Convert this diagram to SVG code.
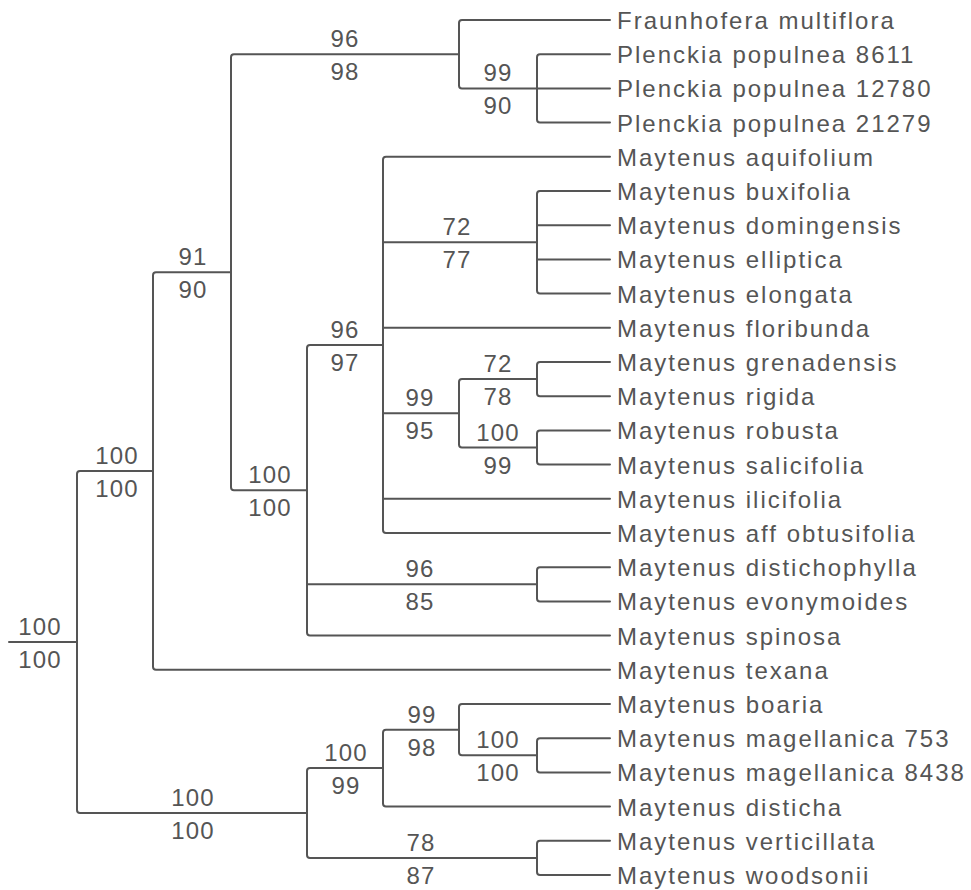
<svg xmlns="http://www.w3.org/2000/svg" width="971" height="890" viewBox="0 0 971 890">
<style>
.e{fill:none;stroke:#555;stroke-width:2;stroke-linecap:round;stroke-linejoin:round}
.t{font-family:"Liberation Sans",Arial,sans-serif;font-size:24px;fill:#555;letter-spacing:2px}
.s{font-family:"Liberation Sans",Arial,sans-serif;font-size:24px;fill:#555;letter-spacing:1.2px;text-anchor:middle}
</style>
<rect width="971" height="890" fill="#fff"/>
<g id="connectors" class="e">
<path d="M9 642H77"/>
<path d="M153 471H80Q77 471 77 474V810Q77 813 80 813H307"/>
<path d="M231 272.2H156Q153 272.2 153 275.2V666.8Q153 669.8 156 669.8H610"/>
<path d="M459 54.2H234Q231 54.2 231 57.2V487.25Q231 490.25 234 490.25H307"/>
<path d="M610 20H462Q459 20 459 23V85.4Q459 88.4 462 88.4H537"/>
<path d="M610 54.2H540Q537 54.2 537 57.2V119.6Q537 122.6 540 122.6H610M537 88.4H610"/>
<path d="M383 344.9H310Q307 344.9 307 347.9V632.6Q307 635.6 310 635.6H610M307 584.3H537"/>
<path d="M610 156.8H386Q383 156.8 383 159.8V530Q383 533 386 533H610M383 242.3H537M383 327.8H610M383 413.3H459M383 498.8H610"/>
<path d="M610 191H540Q537 191 537 194V290.6Q537 293.6 540 293.6H610M537 225.2H610M537 259.4H610"/>
<path d="M537 379.1H462Q459 379.1 459 382.1V444.5Q459 447.5 462 447.5H537"/>
<path d="M610 362H540Q537 362 537 365V393.2Q537 396.2 540 396.2H610"/>
<path d="M610 430.4H540Q537 430.4 537 433.4V461.6Q537 464.6 540 464.6H610"/>
<path d="M610 567.2H540Q537 567.2 537 570.2V598.4Q537 601.4 540 601.4H610"/>
<path d="M383 768.1H310Q307 768.1 307 771.1V854.9Q307 857.9 310 857.9H537"/>
<path d="M459 729.65H386Q383 729.65 383 732.65V803.6Q383 806.6 386 806.6H610"/>
<path d="M610 704H462Q459 704 459 707V752.3Q459 755.3 462 755.3H537"/>
<path d="M610 738.2H540Q537 738.2 537 741.2V769.4Q537 772.4 540 772.4H610"/>
<path d="M610 840.8H540Q537 840.8 537 843.8V872Q537 875 540 875H610"/>
</g>
<g id="leaves" class="t">
<g id="leaf-fraunhofera-multiflora"><text x="617" y="29">Fraunhofera multiflora</text></g>
<g id="leaf-plenckia-8611"><text x="617" y="63.2">Plenckia populnea 8611</text></g>
<g id="leaf-plenckia-12780"><text x="617" y="97.4">Plenckia populnea 12780</text></g>
<g id="leaf-plenckia-21279"><text x="617" y="131.6">Plenckia populnea 21279</text></g>
<g id="leaf-aquifolium"><text x="617" y="165.8">Maytenus aquifolium</text></g>
<g id="leaf-buxifolia"><text x="617" y="200">Maytenus buxifolia</text></g>
<g id="leaf-domingensis"><text x="617" y="234.2">Maytenus domingensis</text></g>
<g id="leaf-elliptica"><text x="617" y="268.4">Maytenus elliptica</text></g>
<g id="leaf-elongata"><text x="617" y="302.6">Maytenus elongata</text></g>
<g id="leaf-floribunda"><text x="617" y="336.8">Maytenus floribunda</text></g>
<g id="leaf-grenadensis"><text x="617" y="371">Maytenus grenadensis</text></g>
<g id="leaf-rigida"><text x="617" y="405.2">Maytenus rigida</text></g>
<g id="leaf-robusta"><text x="617" y="439.4">Maytenus robusta</text></g>
<g id="leaf-salicifolia"><text x="617" y="473.6">Maytenus salicifolia</text></g>
<g id="leaf-ilicifolia"><text x="617" y="507.8">Maytenus ilicifolia</text></g>
<g id="leaf-aff-obtusifolia"><text x="617" y="542">Maytenus aff obtusifolia</text></g>
<g id="leaf-distichophylla"><text x="617" y="576.2">Maytenus distichophylla</text></g>
<g id="leaf-evonymoides"><text x="617" y="610.4">Maytenus evonymoides</text></g>
<g id="leaf-spinosa"><text x="617" y="644.6">Maytenus spinosa</text></g>
<g id="leaf-texana"><text x="617" y="678.8">Maytenus texana</text></g>
<g id="leaf-boaria"><text x="617" y="713">Maytenus boaria</text></g>
<g id="leaf-magellanica-753"><text x="617" y="747.2">Maytenus magellanica 753</text></g>
<g id="leaf-magellanica-8438"><text x="617" y="781.4">Maytenus magellanica 8438</text></g>
<g id="leaf-disticha"><text x="617" y="815.6">Maytenus disticha</text></g>
<g id="leaf-verticillata"><text x="617" y="849.8">Maytenus verticillata</text></g>
<g id="leaf-woodsonii"><text x="617" y="884">Maytenus woodsonii</text></g>
</g>
<g id="support" class="s">
<g id="sup-root"><text x="40" y="635">100</text><text x="40" y="668">100</text></g>
<g id="sup-a"><text x="117" y="464">100</text><text x="117" y="497">100</text></g>
<g id="sup-l"><text x="193" y="806">100</text><text x="193" y="839">100</text></g>
<g id="sup-b"><text x="193" y="265.2">91</text><text x="193" y="298.2">90</text></g>
<g id="sup-c"><text x="345" y="47.2">96</text><text x="345" y="80.2">98</text></g>
<g id="sup-d"><text x="498" y="81.4">99</text><text x="498" y="114.4">90</text></g>
<g id="sup-e"><text x="270" y="483.25">100</text><text x="270" y="516.25">100</text></g>
<g id="sup-f"><text x="345" y="337.9">96</text><text x="345" y="370.9">97</text></g>
<g id="sup-g"><text x="457" y="235.3">72</text><text x="457" y="268.3">77</text></g>
<g id="sup-h"><text x="420" y="406.3">99</text><text x="420" y="439.3">95</text></g>
<g id="sup-i"><text x="498" y="372.1">72</text><text x="498" y="405.1">78</text></g>
<g id="sup-j"><text x="498" y="440.5">100</text><text x="498" y="473.5">99</text></g>
<g id="sup-k"><text x="420" y="577.3">96</text><text x="420" y="610.3">85</text></g>
<g id="sup-m"><text x="346" y="761.1">100</text><text x="346" y="794.1">99</text></g>
<g id="sup-n"><text x="422" y="722.65">99</text><text x="422" y="755.65">98</text></g>
<g id="sup-o"><text x="498" y="748.3">100</text><text x="498" y="781.3">100</text></g>
<g id="sup-p"><text x="421" y="850.9">78</text><text x="421" y="883.9">87</text></g>
</g>
</svg>
